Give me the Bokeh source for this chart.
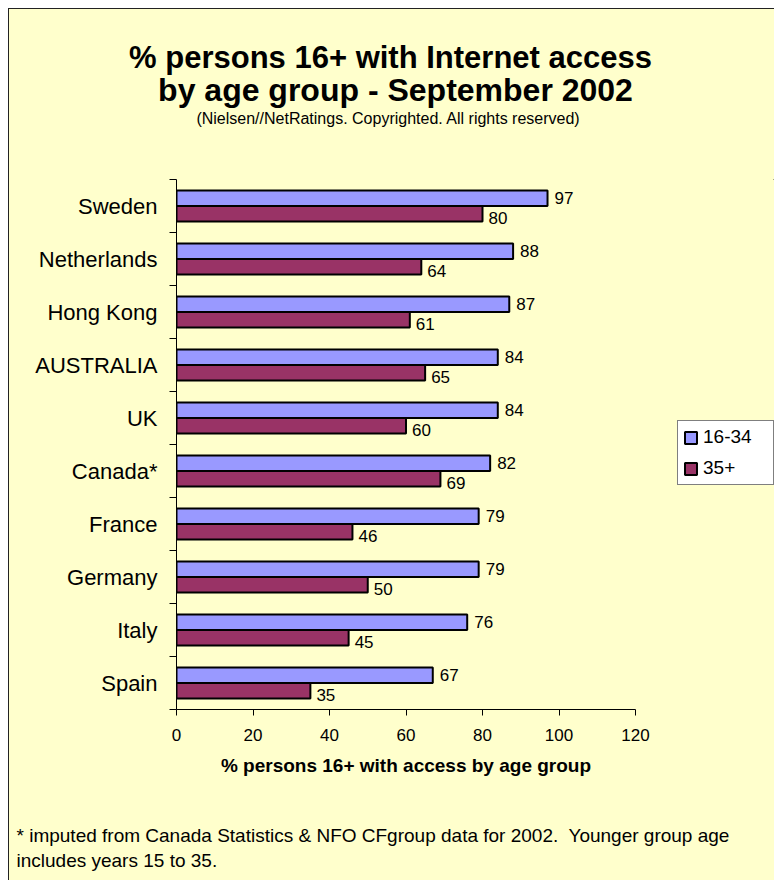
import numpy as np
from bokeh.plotting import figure
from bokeh.layouts import column, row
from bokeh.models import (Range1d, FixedTicker, CustomJSTickFormatter, Legend,
                          LegendItem, ColumnDataSource)
from bokeh.core.properties import value
from bokeh.embed import file_html
from bokeh.resources import INLINE

countries = ["Sweden", "Netherlands", "Hong Kong", "AUSTRALIA", "UK",
             "Canada*", "France", "Germany", "Italy", "Spain"]
young = [97, 88, 87, 84, 84, 82, 79, 79, 76, 67]
older = [80, 64, 61, 65, 60, 69, 46, 50, 45, 35]
series_names = ["16-34", "35+"]
x_ticks = [0, 20, 40, 60, 80, 100, 120]

title_lines = ["% persons 16+ with Internet access", "by age group - September 2002"]
subtitle = "(Nielsen//NetRatings. Copyrighted. All rights reserved)"
footnote = ["* imputed from Canada Statistics & NFO CFgroup data for 2002.\u00a0 Younger group age",
            "includes years 15 to 35."]

FONT = "Liberation Sans"
BG = "#FFFFCC"
BLUE = "#9999FF"
RED = "#993366"

W = 765
TOP_H, MAIN_H, BOT_H = 170, 610, 91
MAIN_W = 646


def blank(w, h):
    f = figure(width=w, height=h, output_backend="svg", toolbar_location=None,
               x_range=Range1d(0, w), y_range=Range1d(h, 0),
               min_border=0, background_fill_color=BG, border_fill_color=BG,
               outline_line_color=None)
    f.axis.visible = False
    f.grid.visible = False
    return f


# ---- header -------------------------------------------------------------
top = blank(W, TOP_H)
top.text(x=[381], y=[48], text=[title_lines[0]], text_align="center",
         text_baseline="middle", text_font=value(FONT), text_font_size="31px",
         text_font_style="bold", text_color="black")
top.text(x=[386], y=[80], text=[title_lines[1]], text_align="center",
         text_baseline="middle", text_font=value(FONT), text_font_size="32px",
         text_font_style="bold", text_color="black")
top.text(x=[379], y=[109], text=[subtitle], text_align="center",
         text_baseline="middle", text_font=value(FONT), text_font_size="16px",
         text_color="black")

# ---- main chart ---------------------------------------------------------
idx = np.arange(len(countries))
src = ColumnDataSource(dict(
    yb=idx + 0.354, yr=idx + 0.646,
    young=young, older=older,
    ty=[str(v) for v in young], to=[str(v) for v in older],
))

p = figure(width=MAIN_W, height=MAIN_H, output_backend="svg", toolbar_location=None,
           x_range=Range1d(0, 120), y_range=Range1d(10, 0),
           min_border_left=167, min_border_right=20, min_border_top=0,
           min_border_bottom=80, background_fill_color=BG, border_fill_color=BG,
           outline_line_color=None)
p.grid.visible = False

p.hbar(y="yb", left=0, right="young", height=0.292, source=src,
       fill_color=BLUE, line_color="black", line_width=2)
p.hbar(y="yr", left=0, right="older", height=0.292, source=src,
       fill_color=RED, line_color="black", line_width=2)

p.text(x="young", y="yb", text="ty", source=src, x_offset=7, y_offset=0,
       text_align="left", text_baseline="middle", text_font=value(FONT),
       text_font_size="17px", text_color="black")
p.text(x="older", y="yr", text="to", source=src, x_offset=6, y_offset=4,
       text_align="left", text_baseline="middle", text_font=value(FONT),
       text_font_size="17px", text_color="black")

xa = p.xaxis[0]
xa.ticker = FixedTicker(ticks=x_ticks)
xa.major_tick_out = 6
xa.major_tick_in = 0
xa.minor_tick_out = 0
xa.minor_tick_in = 0
xa.axis_line_color = "black"
xa.major_tick_line_color = "black"
xa.major_label_text_font = FONT
xa.major_label_text_font_size = "17px"
xa.major_label_text_color = "black"
xa.major_label_standoff = 13
xa.axis_label = "% persons 16+ with access by age group"
xa.axis_label_text_font = FONT
xa.axis_label_text_font_style = "bold"
xa.axis_label_text_font_size = "19px"
xa.axis_label_text_color = "black"
xa.axis_label_standoff = 11

ya = p.yaxis[0]
ya.ticker = FixedTicker(ticks=list(idx + 0.5), minor_ticks=list(range(len(countries) + 1)))
ya.formatter = CustomJSTickFormatter(args=dict(names=countries),
                                     code="return names[Math.floor(tick)] || '';")
ya.major_tick_out = 0
ya.major_tick_in = 0
ya.minor_tick_out = 7
ya.minor_tick_in = 0
ya.minor_tick_line_color = "black"
ya.axis_line_color = "black"
ya.major_label_text_font = FONT
ya.major_label_text_font_size = "22px"
ya.major_label_text_color = "black"
ya.major_label_standoff = 12

# ---- legend panel -------------------------------------------------------
lf = figure(width=W - MAIN_W, height=MAIN_H, output_backend="svg", toolbar_location=None,
            x_range=Range1d(0, 1), y_range=Range1d(0, 1), min_border=0,
            background_fill_color=BG, border_fill_color=BG, outline_line_color=None)
lf.axis.visible = False
lf.grid.visible = False
# legend swatch renderers (kept outside the visible range)
lb = lf.hbar(y=[5], left=[2], right=[3], height=0.3, fill_color=BLUE,
             line_color="black", line_width=2)
lr = lf.hbar(y=[5], left=[2], right=[3], height=0.3, fill_color=RED,
             line_color="black", line_width=2)
legend = Legend(items=[LegendItem(label=series_names[0], renderers=[lb]),
                       LegendItem(label=series_names[1], renderers=[lr])],
                location=(22, 224), orientation="vertical",
                background_fill_color="white", background_fill_alpha=1,
                border_line_color="black", border_line_width=1,
                label_text_font=FONT, label_text_font_size="19px",
                label_text_color="black", glyph_width=15, glyph_height=15,
                label_height=20, label_width=65, label_standoff=5,
                spacing=9, padding=5, margin=0)
lf.add_layout(legend, "center")

# ---- footnote -----------------------------------------------------------
bot = blank(W, BOT_H)
bot.text(x=[7, 7], y=[46, 71], text=footnote, text_align="left",
         text_baseline="middle", text_font=value(FONT), text_font_size="19px",
         text_color="black")

layout = column(top, row(p, lf), bot)
layout.styles = {"margin-left": "8px", "margin-top": "8px",
                 "border-left": "1px solid #222", "border-top": "1px solid #222",
                 "background-color": BG}

html = file_html(layout, INLINE)
html = html.replace("</head>", "<style>html,body{overflow:hidden;}</style></head>", 1)
open("out.html", "w").write(html)
